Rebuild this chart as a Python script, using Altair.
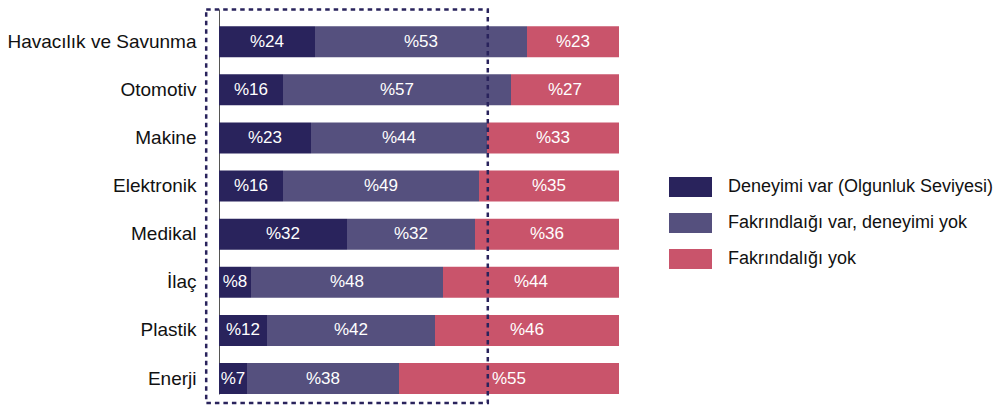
import altair as alt
import pandas as pd

categories = ["Havacılık ve Savunma", "Otomotiv", "Makine", "Elektronik",
              "Medikal", "İlaç", "Plastik", "Enerji"]
series = ["Deneyimi var (Olgunluk Seviyesi)",
          "Fakrındlaığı var, deneyimi yok",
          "Fakrındalığı yok"]
deneyimi_var = [24, 16, 23, 16, 32, 8, 12, 7]
farkindalik_var = [53, 57, 44, 49, 32, 48, 42, 38]
farkindalik_yok = [23, 27, 33, 35, 36, 44, 46, 55]
colors = ["#29235C", "#55507E", "#C9546B"]
box_x = [-3.2, 67.2]

rows = []
for i, cat in enumerate(categories):
    start = 0
    for s, vals in zip(series, [deneyimi_var, farkindalik_var, farkindalik_yok]):
        v = vals[i]
        rows.append({"cat": cat, "series": s, "value": v, "start": start,
                     "end": start + v, "mid": start + v / 2, "label": f"%{v}"})
        start += v
df = pd.DataFrame(rows)
box_df = pd.DataFrame({"x0": [box_x[0]], "x1": [box_x[1]]})

xscale = alt.Scale(domain=[0, 100], nice=False, zero=False)
yscale = alt.Scale(domain=categories, paddingInner=0.356, paddingOuter=0.178, align=1)

legend_symbol = "M-1,-0.465H1V0.465H-1Z"

bars = alt.Chart(df).mark_bar(cornerRadius=0).encode(
    x=alt.X("start:Q", scale=xscale, axis=None),
    x2="end:Q",
    y=alt.Y("cat:N", scale=yscale, sort=categories,
            axis=alt.Axis(title=None, ticks=False, labelPadding=23, labelFontSize=19,
                          labelFont="Liberation Sans", labelColor="#111111",
                          domainColor="#555555", domainWidth=1, labelLimit=300)),
    color=alt.Color("series:N", scale=alt.Scale(domain=series, range=colors),
                    legend=alt.Legend(title=None, orient="none", legendX=450, legendY=168,
                                      symbolType=legend_symbol, symbolSize=1849,
                                      clipHeight=20, rowPadding=16, labelOffset=16,
                                      labelFontSize=18, labelFont="Liberation Sans",
                                      labelColor="#111111", symbolStrokeWidth=0,
                                      symbolOpacity=1, labelLimit=400)),
)

text = alt.Chart(df).mark_text(color="white", fontSize=17, font="Liberation Sans").encode(
    x=alt.X("mid:Q", scale=xscale),
    y=alt.Y("cat:N", scale=yscale, sort=categories),
    text="label:N",
)

box = alt.Chart(box_df).mark_rect(fill=None, fillOpacity=0, stroke="#29235C",
                                  strokeWidth=2.5, strokeDash=[4.5, 4]).encode(
    x=alt.X("x0:Q", scale=xscale),
    x2="x1:Q",
    y=alt.value(0.5),
    y2=alt.value(394),
)

chart = alt.layer(bars, text, box).properties(
    width=400, height=385,
    padding={"left": 211, "top": 1, "right": 377, "bottom": 11},
    autosize=alt.AutoSizeParams(type="none"),
).configure_view(stroke=None)

chart.save("out.html", embed_options={"renderer": "svg", "actions": False})
